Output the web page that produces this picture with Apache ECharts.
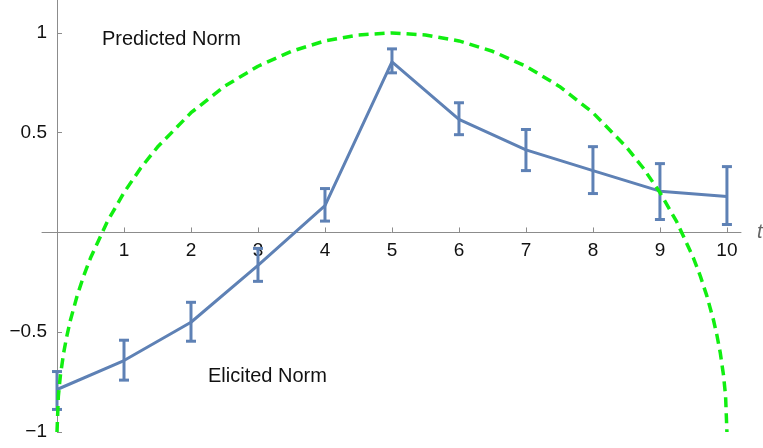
<!DOCTYPE html>
<html>
<head>
<meta charset="utf-8">
<script src="https://cdn.jsdelivr.net/npm/echarts@6/dist/echarts.min.js"></script>
<style>
html,body{margin:0;padding:0;background:#fff;}
#chart{width:763px;height:448px;}
</style>
</head>
<body>
<div id="chart"></div>
<script>
// Elicited norm (mean with error bars)
var elicitedX = [0, 1, 2, 3, 4, 5, 6, 7, 8, 9, 10];
var elicitedY = [-0.787, -0.642, -0.45, -0.165, 0.135, 0.855, 0.567, 0.414, 0.31, 0.207, 0.18];
var elicitedLow = [-0.887, -0.74, -0.545, -0.245, 0.057, 0.80, 0.49, 0.31, 0.195, 0.065, 0.04];
var elicitedHigh = [-0.697, -0.54, -0.35, -0.08, 0.22, 0.92, 0.65, 0.516, 0.43, 0.345, 0.33];

// Predicted norm (dashed curve)
var predictedX = [0, 0.02, 0.05, 0.1, 0.15, 0.2, 0.3, 0.4, 0.5, 0.75, 1, 1.25, 1.5, 2, 2.5, 3, 3.5, 4, 4.5, 5,
                  5.5, 6, 6.5, 7, 7.5, 8, 8.5, 8.75, 9, 9.25, 9.5, 9.6, 9.7, 9.8, 9.85, 9.9, 9.95, 9.98, 10];
var predictedY = [-1, -0.821, -0.718, -0.602, -0.514, -0.44, -0.318, -0.216, -0.128, 0.054, 0.2, 0.323, 0.428, 0.6, 0.732, 0.833, 0.908, 0.96, 0.99, 1.0,
                  0.99, 0.96, 0.908, 0.833, 0.732, 0.6, 0.428, 0.323, 0.2, 0.054, -0.128, -0.216, -0.318, -0.44, -0.514, -0.602, -0.718, -0.821, -1];

var xTicks = [1, 2, 3, 4, 5, 6, 7, 8, 9, 10];
var yTicks = [-1, -0.5, 0.5, 1];
var labels = ["Predicted Norm", "Elicited Norm"];

var blue = '#5E81B5';
var axisGray = '#8c8c8c';
var font = '"Liberation Sans", Arial, sans-serif';

var W = 763, H = 448;
var gridL = 42, gridR = 22, gridT = 0, gridB = 16;
var xMin = -0.224, xMax = 10.21, yMin = -1, yMax = 1.165;
var plotW = W - gridL - gridR, plotH = H - gridT - gridB;
// move the axes so they cross at the origin
var xAxisOffset = -((0 - yMin) / (yMax - yMin)) * plotH;
var yAxisOffset = -((0 - xMin) / (xMax - xMin)) * plotW;

function zip(a, b) { return a.map(function (v, i) { return [v, b[i]]; }); }

var errData = elicitedX.map(function (x, i) { return [x, elicitedLow[i], elicitedHigh[i]]; });

var chart = echarts.init(document.getElementById('chart'), null, {renderer: 'canvas'});
chart.setOption({
  animation: false,
  backgroundColor: '#fff',
  grid: {left: gridL, right: gridR, top: gridT, bottom: gridB, containLabel: false, outerBoundsMode: 'none'},
  xAxis: {
    type: 'value',
    min: xMin, max: xMax,
    position: 'bottom',
    offset: xAxisOffset,
    name: 't',
    nameLocation: 'end',
    nameGap: 16,
    nameTextStyle: {fontFamily: font, fontSize: 20, fontStyle: 'italic', color: '#666', verticalAlign: 'middle'},
    axisLine: {onZero: false, lineStyle: {color: axisGray, width: 1}},
    axisTick: {show: true, inside: true, length: 5, customValues: xTicks, lineStyle: {color: axisGray}},
    axisLabel: {customValues: xTicks, fontFamily: font, fontSize: 19, color: '#111', margin: 9,
      formatter: function (v) { return String(v); }},
    splitLine: {show: false}
  },
  yAxis: {
    type: 'value',
    min: yMin, max: yMax,
    position: 'left',
    offset: yAxisOffset,
    axisLine: {show: true, onZero: false, lineStyle: {color: axisGray, width: 1}},
    axisTick: {show: true, inside: true, length: 5, customValues: yTicks, lineStyle: {color: axisGray}},
    axisLabel: {customValues: yTicks, fontFamily: font, fontSize: 19, color: '#111', margin: 10,
      formatter: function (v) { return String(v).replace('-', '\u2212'); }},
    splitLine: {show: false}
  },
  graphic: [
    {type: 'text', left: 102, top: 29, style: {text: labels[0], font: '20px ' + font, fill: '#111'}},
    {type: 'text', left: 208, top: 366, style: {text: labels[1], font: '20px ' + font, fill: '#111'}}
  ],
  series: [
    {
      type: 'line',
      data: zip(elicitedX, elicitedY),
      symbol: 'none',
      lineStyle: {color: blue, width: 3},
      z: 2
    },
    {
      type: 'custom',
      data: errData,
      encode: {x: 0, y: [1, 2]},
      z: 3,
      renderItem: function (params, api) {
        var x = api.value(0);
        var lo = api.coord([x, api.value(1)]);
        var hi = api.coord([x, api.value(2)]);
        var hw = 5;
        var st = {stroke: blue, lineWidth: 3};
        return {
          type: 'group',
          children: [
            {type: 'line', shape: {x1: lo[0], y1: lo[1], x2: hi[0], y2: hi[1]}, style: st},
            {type: 'line', shape: {x1: lo[0] - hw, y1: lo[1], x2: lo[0] + hw, y2: lo[1]}, style: st},
            {type: 'line', shape: {x1: hi[0] - hw, y1: hi[1], x2: hi[0] + hw, y2: hi[1]}, style: st}
          ]
        };
      }
    },
    {
      type: 'line',
      data: zip(predictedX, predictedY),
      symbol: 'none',
      smooth: false,
      lineStyle: {color: '#11ee11', width: 3.5, type: [10, 6]},
      z: 4
    }
  ]
});
</script>
</body>
</html>
